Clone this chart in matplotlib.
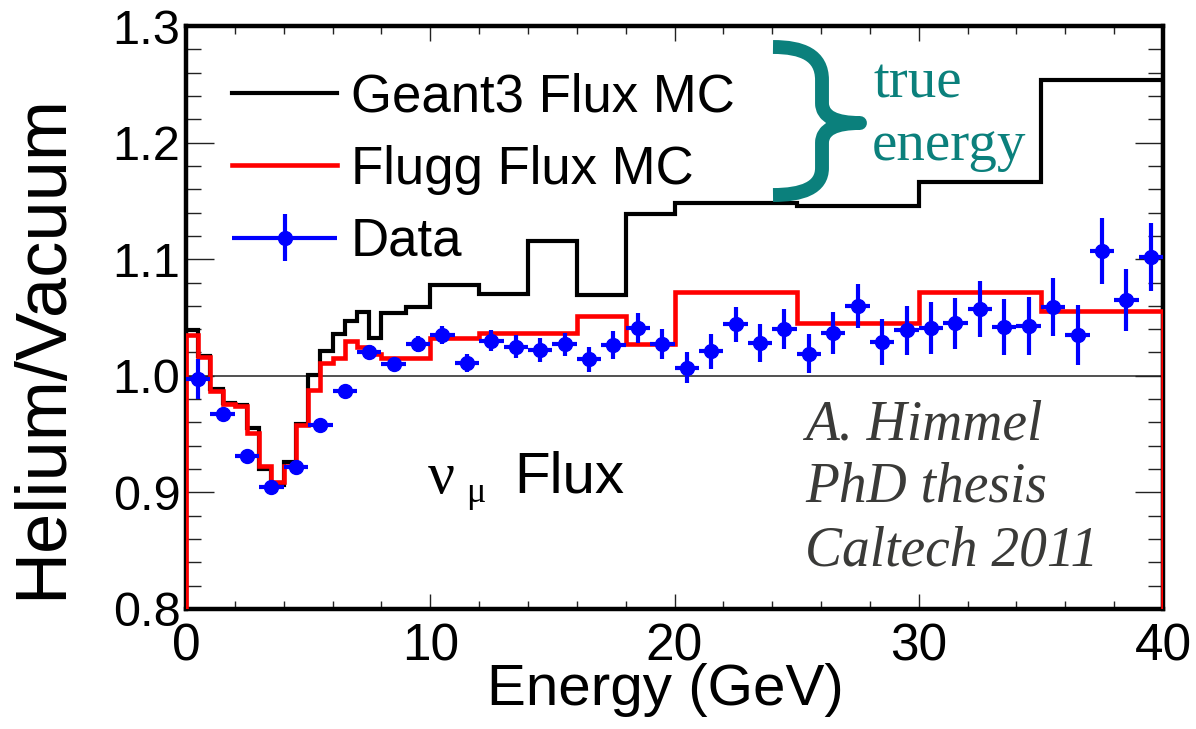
import matplotlib
matplotlib.use("Agg")
import matplotlib.pyplot as plt
from matplotlib.path import Path
from matplotlib.patches import PathPatch
from matplotlib.ticker import MultipleLocator
from matplotlib.container import ErrorbarContainer
from matplotlib.legend_handler import HandlerErrorbar

'''
    DATA (read off the reference picture)
'''
EDGES = [0, 0.5, 1, 1.5, 2, 2.5, 3, 3.5, 4, 4.5, 5, 5.5, 6, 6.5, 7, 7.5, 8,
         9, 10, 12, 14, 16, 18, 20, 25, 30, 35, 40]
GEANT3 = [1.039, 1.017, 0.989, 0.977, 0.975, 0.955, 0.920, 0.906, 0.926, 0.959,
          1.001, 1.021, 1.036, 1.047, 1.055, 1.032, 1.054, 1.059, 1.078, 1.070,
          1.116, 1.069, 1.139, 1.148, 1.146, 1.166, 1.254]
FLUGG = [1.035, 1.016, 0.987, 0.976, 0.974, 0.951, 0.923, 0.909, 0.923, 0.958,
         0.988, 1.011, 1.015, 1.030, 1.025, 1.019, 1.015, 1.015, 1.032, 1.037,
         1.037, 1.051, 1.027, 1.072, 1.045, 1.072, 1.056]

DATA_E = [0.5, 1.5, 2.5, 3.5, 4.5, 5.5, 6.5, 7.5, 8.5, 9.5,
          10.5, 11.5, 12.5, 13.5, 14.5, 15.5, 16.5, 17.5, 18.5, 19.5,
          20.5, 21.5, 22.5, 23.5, 24.5, 25.5, 26.5, 27.5, 28.5, 29.5,
          30.5, 31.5, 32.5, 33.5, 34.5, 35.5, 36.5, 37.5, 38.5, 39.5]
DATA_R = [0.997, 0.967, 0.931, 0.905, 0.922, 0.958, 0.987, 1.020, 1.010, 1.027,
          1.035, 1.011, 1.030, 1.025, 1.022, 1.027, 1.014, 1.026, 1.041, 1.027,
          1.007, 1.021, 1.044, 1.028, 1.040, 1.019, 1.037, 1.060, 1.029, 1.039,
          1.041, 1.045, 1.057, 1.042, 1.043, 1.059, 1.035, 1.107, 1.065, 1.102]
DATA_ERR = [0.017, 0.003, 0.003, 0.003, 0.003, 0.003, 0.004, 0.005, 0.005, 0.007,
            0.008, 0.008, 0.009, 0.010, 0.010, 0.010, 0.011, 0.012, 0.013, 0.013,
            0.013, 0.015, 0.015, 0.016, 0.017, 0.017, 0.018, 0.019, 0.020, 0.021,
            0.022, 0.022, 0.024, 0.024, 0.025, 0.025, 0.026, 0.028, 0.027, 0.029]
DATA_XERR = [0.5] * len(DATA_E)

X_LABEL = "Energy (GeV)"
Y_LABEL = "Helium/Vacuum"
TEAL = "#0b807c"

plt.rcParams['font.family'] = ['Liberation Sans', 'DejaVu Sans']

fig = plt.figure(figsize=(11.96, 7.29), dpi=100)
ax = fig.add_axes([186 / 1196, 120 / 729, 977 / 1196, 583 / 729])

ax.axhline(1.0, color='#222222', lw=1.1, zorder=1.5)
ax.stairs(GEANT3, EDGES, baseline=0.8, color='black', lw=3, zorder=2,
          label='Geant3 Flux MC')
ax.stairs(FLUGG, EDGES, baseline=0.8, color='red', lw=3.3, zorder=3,
          label='Flugg Flux MC')
ax.errorbar(DATA_E, DATA_R, yerr=DATA_ERR, xerr=DATA_XERR, fmt='o', color='blue',
            ms=10, elinewidth=3, capsize=0, zorder=4, label='Data')

ax.set_xlim(0, 40)
ax.set_ylim(0.8, 1.3)
ax.xaxis.set_minor_locator(MultipleLocator(2))
ax.yaxis.set_minor_locator(MultipleLocator(0.02))
ax.set_xticks([0, 10, 20, 30, 40], ['0', '10', '20', '30', '40'])
ax.set_yticks([0.8, 0.9, 1.0, 1.1, 1.2, 1.3], ['0.8', '0.9', '1.0', '1.1', '1.2', '1.3'])

for s in ax.spines.values():
    s.set_linewidth(3.2)
ax.tick_params(axis='both', which='both', direction='in', top=True, right=True,
               width=1.0, colors='#222222', labelcolor='black')
ax.tick_params(axis='x', which='major', length=11, labelsize=37, pad=10)
ax.tick_params(axis='x', which='minor', length=6)
ax.tick_params(axis='y', which='major', length=20, labelsize=35, pad=4)
ax.tick_params(axis='y', which='minor', length=11)

ax.set_xlabel(X_LABEL, fontsize=42)
ax.set_ylabel(Y_LABEL, fontsize=52)
ax.xaxis.set_label_coords(0.491, -0.092)
ax.yaxis.set_label_coords(-0.112, 0.451)

ax.legend(loc='upper left', bbox_to_anchor=(0.047, 0.92), frameon=False,
          fontsize=38, handlelength=2.0, handletextpad=0.25, labelspacing=0.42,
          borderpad=0, borderaxespad=0,
          handler_map={ErrorbarContainer: HandlerErrorbar(xerr_size=1.0, yerr_size=0.45)})

# nu_mu Flux label
ax.text(9.9, 0.8997, '\u03bd', fontsize=43, family=['Liberation Serif'],
        ha='left', va='baseline')
ax.text(11.45, 0.8915, '\u03bc', fontsize=26, family=['Liberation Serif'],
        ha='left', va='baseline')
ax.text(13.45, 0.8997, 'Flux', fontsize=42, ha='left', va='baseline')


# teal curly brace, drawn in axes fractions
def px(x, y):
    return ((x - 186) / 977, (609 - y) / 583)


verts = [px(773, 47), px(802, 47), px(822, 55), px(822, 80),
         px(822, 103),
         px(822, 117), px(836, 123), px(860, 123),
         px(836, 123), px(822, 129), px(822, 143),
         px(822, 168),
         px(822, 188), px(802, 195), px(773, 195)]
codes = [Path.MOVETO, Path.CURVE4, Path.CURVE4, Path.CURVE4,
         Path.LINETO,
         Path.CURVE4, Path.CURVE4, Path.CURVE4,
         Path.CURVE4, Path.CURVE4, Path.CURVE4,
         Path.LINETO,
         Path.CURVE4, Path.CURVE4, Path.CURVE4]
ax.add_patch(PathPatch(Path(verts, codes), fill=False, edgecolor=TEAL, lw=10,
                       capstyle='butt', joinstyle='round', transform=ax.transAxes,
                       clip_on=False, zorder=6))

ax.text(*px(873, 97), 'true', transform=ax.transAxes, fontsize=41, color=TEAL,
        family=['Liberation Serif'], ha='left', va='baseline', zorder=6)
ax.text(*px(872, 160), 'energy', transform=ax.transAxes, fontsize=41, color=TEAL,
        family=['Liberation Serif'], ha='left', va='baseline', zorder=6)

for line, ybase in [('A. Himmel', 440), ('PhD thesis', 502), ('Caltech 2011', 565)]:
    ax.text(*px(805, ybase), line, transform=ax.transAxes, fontsize=40,
            color='#3a3a38', family=['Liberation Serif'], style='italic',
            ha='left', va='baseline', zorder=6)

fig.savefig('out.png', dpi=100)
